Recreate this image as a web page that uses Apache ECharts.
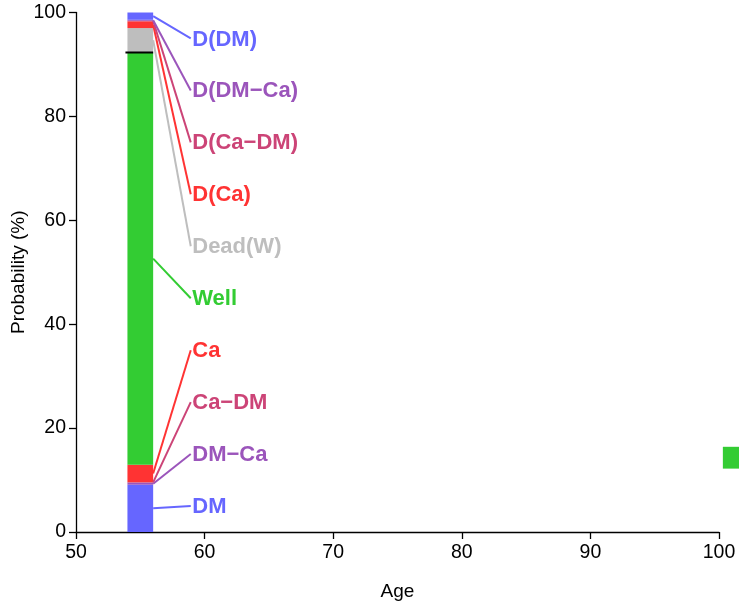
<!DOCTYPE html>
<html><head><meta charset="utf-8">
<script src="https://cdn.jsdelivr.net/npm/echarts@6/dist/echarts.min.js"></script>
<style>html,body{margin:0;padding:0;background:#fff}#c{width:739px;height:607px}</style>
</head><body><div id="c"></div>
<script>
// ---- data ----
const categories = ['DM', 'DM\u2212Ca', 'Ca\u2212DM', 'Ca', 'Well', 'Dead(W)', 'D(Ca)', 'D(Ca\u2212DM)', 'D(DM\u2212Ca)', 'D(DM)'];
const probabilities = [9.1, 0.4, 0.1, 3.35, 79.35, 4.7, 1.3, 0.1, 0.2, 1.4];
const labelValues = [5, 15, 25, 35, 45, 55, 65, 75, 85, 95];
const ageStart = 54, ageEnd = 56, labelAge = 59;
const xTicks = [50, 60, 70, 80, 90, 100];
const yTicks = [0, 20, 40, 60, 80, 100];
const wellTopLine = 92.3;
const strayBox = [100.3, 102.3, 12.2, 16.4]; // x0, x1, y0, y1
const colors = ['#6666FF', '#9B55BB', '#CC4477', '#FF3333', '#33CC33', '#BEBEBE', '#FF3333', '#CC4477', '#9B55BB', '#6666FF'];

// cumulative bounds
const lows = [], highs = [];
let acc = 0;
probabilities.forEach(v => { lows.push(acc); acc += v; highs.push(acc); });

const FONT = '"Liberation Sans", Arial, Helvetica, sans-serif';

const chart = echarts.init(document.getElementById('c'), null, {renderer: 'canvas'});
const segData = categories.map((c, i) => [ageStart, ageEnd, lows[i], highs[i], labelValues[i], i]);

chart.setOption({
  animation: false,
  grid: {left: 76, right: 20, top: 12.5, bottom: 75, containLabel: false, outerBoundsMode: 'none'},
  xAxis: {
    type: 'value', min: 50, max: 100, interval: 10,
    name: 'Age', nameLocation: 'middle', nameGap: 50,
    nameTextStyle: {fontFamily: FONT, fontSize: 19, color: '#000'},
    axisLine: {show: true, onZero: false, lineStyle: {color: '#000', width: 1.3}},
    axisTick: {show: true, length: 7, lineStyle: {color: '#000', width: 1.3}},
    axisLabel: {fontFamily: FONT, fontSize: 19.5, color: '#000', margin: 11},
    splitLine: {show: false}
  },
  yAxis: {
    type: 'value', min: 0, max: 100, interval: 20,
    name: 'Probability (%)', nameLocation: 'middle', nameGap: 48, nameMoveOverlap: false,
    nameTextStyle: {fontFamily: FONT, fontSize: 19, color: '#000'},
    axisLine: {show: true, lineStyle: {color: '#000', width: 1.3}},
    axisTick: {show: true, length: 7, lineStyle: {color: '#000', width: 1.3}},
    axisLabel: {fontFamily: FONT, fontSize: 19.5, color: '#000', margin: 10},
    splitLine: {show: false}
  },
  series: [
    {
      type: 'custom', clip: false,
      data: segData,
      renderItem: function (params, api) {
        const x0 = api.value(0), x1 = api.value(1), y0 = api.value(2), y1 = api.value(3);
        const ly = api.value(4), i = api.value(5);
        const p0 = api.coord([x0, y1]), p1 = api.coord([x1, y0]);
        const mid = api.coord([x1, (y0 + y1) / 2]);
        const lab = api.coord([labelAge, ly]);
        const children = [
          {type: 'rect', shape: {x: p0[0], y: p0[1], width: p1[0] - p0[0], height: p1[1] - p0[1]},
           style: {fill: colors[i]}},
          {type: 'line', shape: {x1: mid[0], y1: mid[1], x2: lab[0] - 1, y2: lab[1]},
           style: {stroke: colors[i], lineWidth: 2}, z2: 5},
          {type: 'text', x: lab[0] + 0.5, y: lab[1] + 1,
           style: {text: categories[i], fill: colors[i], font: 'bold 22px ' + FONT,
                   textAlign: 'left', textVerticalAlign: 'middle'}, z2: 6}
        ];
        return {type: 'group', children: children};
      }
    },
    {
      type: 'custom', clip: false, z: 5,
      data: [[ageStart, ageEnd, wellTopLine]],
      renderItem: function (params, api) {
        const a = api.coord([api.value(0), api.value(2)]);
        const b = api.coord([api.value(1), api.value(2)]);
        return {type: 'line', shape: {x1: a[0] - 2, y1: a[1], x2: b[0], y2: b[1]},
                style: {stroke: '#000', lineWidth: 2}};
      }
    },
    {
      type: 'custom', clip: false,
      data: [strayBox],
      renderItem: function (params, api) {
        const a = api.coord([api.value(0), api.value(3)]);
        const b = api.coord([api.value(1), api.value(2)]);
        return {type: 'rect', shape: {x: a[0], y: a[1], width: b[0] - a[0], height: b[1] - a[1]},
                style: {fill: '#33CC33'}};
      }
    }
  ]
});
</script></body></html>
